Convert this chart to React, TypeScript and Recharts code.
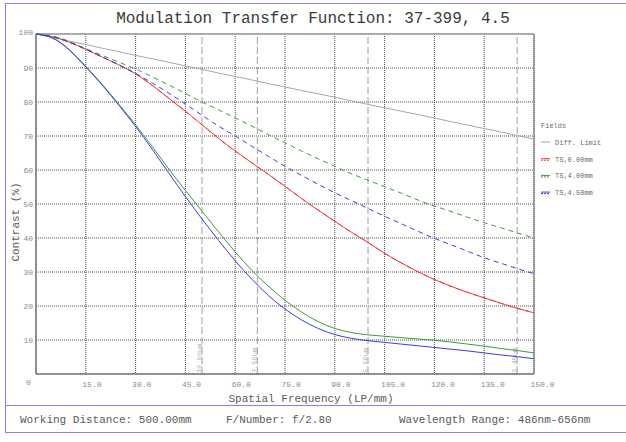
import { LineChart, Line, XAxis, YAxis, CartesianGrid, ReferenceLine } from "recharts";

const FONT = "'Liberation Mono', 'Courier New', monospace";
const FRAME_COLOR = "#8484e4";
const RED = "#f53a3a";
const GREEN = "#3a9e3a";
const BLUE = "#3a3af5";
const GRAY = "#a8a8a8";

// spatial frequency, LP/mm
const frequency = [
  0, 5, 10, 15, 20, 25, 30, 35, 40, 45, 50, 55, 60, 65, 70, 75, 80, 85, 90, 95, 100, 105, 110, 115,
  120, 125, 130, 135, 140, 145, 150,
];

const diffLimit = [
  100, 99.0, 97.9, 96.9, 95.8, 94.8, 93.7, 92.7, 91.7, 90.6, 89.6, 88.5, 87.5, 86.5, 85.4, 84.4,
  83.4, 82.4, 81.4, 80.3, 79.3, 78.3, 77.3, 76.3, 75.3, 74.2, 73.2, 72.2, 71.2, 70.1, 69.1,
];
const ts000 = [
  100, 99.2, 97.6, 95.5, 93.2, 90.9, 88.3, 84.9, 81.1, 77.3, 73.3, 69.3, 65.6, 62.1, 58.7, 55.2,
  51.6, 48.2, 44.9, 41.7, 38.7, 35.5, 32.7, 30.1, 27.8, 25.8, 24.0, 22.4, 20.8, 19.3, 18.0,
];
const ts400S = [
  100, 98.8, 95.4, 90.5, 85.1, 79.3, 73.3, 66.9, 60.3, 54.0, 47.9, 41.8, 35.9, 30.5, 25.8, 21.7,
  18.2, 15.4, 13.4, 12.2, 11.5, 11.1, 10.7, 10.3, 9.9, 9.4, 8.8, 8.2, 7.5, 6.9, 6.2,
];
const ts400T = [
  100, 99.4, 97.8, 95.7, 93.7, 91.7, 89.7, 87.4, 85.0, 82.5, 80.0, 77.7, 75.3, 72.9, 70.4, 68.0,
  65.6, 63.3, 61.1, 58.9, 57.0, 55.1, 53.2, 51.2, 49.4, 47.8, 46.1, 44.5, 43.0, 41.5, 40.0,
];
const ts450S = [
  100, 98.8, 95.3, 90.3, 84.9, 79.0, 72.8, 66.1, 59.1, 52.2, 45.6, 39.3, 33.3, 27.9, 23.1, 19.1,
  15.9, 13.4, 11.6, 10.5, 9.8, 9.3, 8.8, 8.3, 7.8, 7.3, 6.8, 6.2, 5.6, 5.1, 4.5,
];
const ts450T = [
  100, 99.2, 97.6, 95.5, 93.2, 90.9, 88.4, 85.6, 82.6, 79.4, 76.1, 72.9, 70.0, 67.0, 64.0, 61.1,
  58.4, 55.8, 53.3, 51.0, 48.7, 46.4, 44.2, 42.0, 39.9, 38.0, 36.1, 34.2, 32.6, 31.0, 29.5,
];

const xTicks = [15, 30, 45, 60, 75, 90, 105, 120, 135, 150];
const yTicks = [0, 10, 20, 30, 40, 50, 60, 70, 80, 90, 100];

// sensor pixel pitch and its Nyquist frequency
const pitchLabels = ["10.00um", "7.50um", "5.00um", "3.45um"];
const pitchNyquist = [50, 66.67, 100, 144.93];

const legendLabels = ["Diff. Limit", "TS,0.00mm", "TS,4.00mm", "TS,4.50mm"];
const legendColors = [GRAY, RED, GREEN, BLUE];

const footer = [
  "Working Distance: 500.00mm",
  "F/Number: f/2.80",
  "Wavelength Range: 486nm-656nm",
];

const rows = frequency.map((f, i) => ({
  f,
  diff: diffLimit[i],
  ts000: ts000[i],
  ts400S: ts400S[i],
  ts400T: ts400T[i],
  ts450S: ts450S[i],
  ts450T: ts450T[i],
}));

function XTick(props: any) {
  const { x, payload } = props;
  return (
    <text x={x - 3.5} y={387} fontSize={8} fontFamily={FONT} fill="#8a8a8a" textAnchor="start">
      {Number(payload.value).toFixed(1)}
    </text>
  );
}

function YTick(props: any) {
  const { y, payload } = props;
  const v = Number(payload.value);
  if (v === 0) {
    return (
      <text x={26} y={385} fontSize={8} fontFamily={FONT} fill="#8a8a8a">
        0
      </text>
    );
  }
  return (
    <text
      x={33}
      y={v === 100 ? y + 0.5 : y + 3}
      fontSize={8}
      fontFamily={FONT}
      fill="#8a8a8a"
      textAnchor="end"
    >
      {v}
    </text>
  );
}

function PitchLabel(props: any) {
  const { viewBox, text } = props;
  if (!viewBox) return null;
  const lx = viewBox.x - 0.5;
  const ly = viewBox.y + viewBox.height - 1;
  return (
    <text
      x={lx}
      y={ly}
      transform={`rotate(-90 ${lx} ${ly})`}
      fontSize={7}
      fontFamily={FONT}
      fill="#b4b4b4"
    >
      {text}
    </text>
  );
}

export default function App() {
  return (
    <div style={{ position: "absolute", left: 0, top: 0, width: 626, height: 442, background: "#fff" }}>
      <LineChart
        width={626}
        height={442}
        data={rows}
        margin={{ top: 34, right: 92, left: 6, bottom: 48 }}
      >
        <CartesianGrid stroke="#4a4a4a" strokeDasharray="1 1" />
        <XAxis
          dataKey="f"
          type="number"
          domain={[0, 150]}
          ticks={xTicks}
          tick={<XTick />}
          tickLine={false}
          axisLine={{ stroke: "#7a7a7a", strokeWidth: 1.5 }}
          height={20}
          interval={0}
        />
        <YAxis
          type="number"
          domain={[0, 100]}
          ticks={yTicks}
          tick={<YTick />}
          tickLine={false}
          axisLine={{ stroke: "#7a7a7a", strokeWidth: 1.5 }}
          width={30}
          interval={0}
        />
        <ReferenceLine y={100} stroke="#a0a0a0" strokeWidth={1.5} />
        <ReferenceLine x={150} stroke="#6a6a6a" strokeWidth={1} />
        {pitchNyquist.map((nu, i) => (
          <ReferenceLine
            key={pitchLabels[i]}
            x={nu}
            stroke="#a0a0a0"
            strokeDasharray="7 3"
            label={<PitchLabel text={pitchLabels[i]} />}
          />
        ))}

        <Line type="natural" dataKey="diff" stroke={GRAY} strokeWidth={1} dot={false} isAnimationActive={false} />
        <Line type="natural" dataKey="ts000" stroke={RED} strokeWidth={1} dot={false} isAnimationActive={false} />
        <Line type="natural" dataKey="ts000" stroke={RED} strokeWidth={1} strokeDasharray="5 4" dot={false} isAnimationActive={false} />
        <Line type="natural" dataKey="ts400S" stroke={GREEN} strokeWidth={1} dot={false} isAnimationActive={false} />
        <Line type="natural" dataKey="ts400T" stroke={GREEN} strokeWidth={1} strokeDasharray="5 4" dot={false} isAnimationActive={false} />
        <Line type="natural" dataKey="ts450S" stroke={BLUE} strokeWidth={1} dot={false} isAnimationActive={false} />
        <Line type="natural" dataKey="ts450T" stroke={BLUE} strokeWidth={1} strokeDasharray="5 4" dot={false} isAnimationActive={false} />
      </LineChart>

      <svg
        width={626}
        height={442}
        style={{ position: "absolute", left: 0, top: 0, pointerEvents: "none" }}
        fontFamily={FONT}
      >
        <rect x={5.5} y={3.5} width={640} height={429} fill="none" stroke={FRAME_COLOR} />
        <line x1={5.5} x2={626} y1={405.5} y2={405.5} stroke={FRAME_COLOR} />

        <text x={313} y={22.5} fontSize={16} fill="#3a3a3a" textAnchor="middle">
          Modulation Transfer Function: 37-399, 4.5
        </text>
        <text x={311} y={401.5} fontSize={11} fill="#5a5a5a" textAnchor="middle">
          Spatial Frequency (LP/mm)
        </text>
        <text
          x={18.5}
          y={222}
          fontSize={11}
          fill="#5a5a5a"
          textAnchor="middle"
          transform="rotate(-90 18.5 222)"
        >
          Contrast (%)
        </text>

        <text x={541} y={127.5} fontSize={7} fill="#6a6a6a">
          Fields
        </text>
        {legendLabels.map((label, i) => {
          const cy = 142.5 + i * 16.7;
          return (
            <g key={label}>
              <line x1={541} x2={550} y1={cy - 0.5} y2={cy - 0.5} stroke={legendColors[i]} strokeWidth={1} />
              {i > 0 && (
                <line
                  x1={541}
                  x2={550}
                  y1={cy + 1}
                  y2={cy + 1}
                  stroke={legendColors[i]}
                  strokeWidth={1}
                  strokeDasharray="2 1"
                />
              )}
              <text x={555} y={cy + 2.3} fontSize={7} fill="#6a6a6a">
                {label}
              </text>
            </g>
          );
        })}

        <text x={20} y={422.5} fontSize={11} fill="#5a5a5a">
          {footer[0]}
        </text>
        <text x={226} y={422.5} fontSize={11} fill="#5a5a5a">
          {footer[1]}
        </text>
        <text x={399} y={422.5} fontSize={11} fill="#5a5a5a">
          {footer[2]}
        </text>
      </svg>
    </div>
  );
}
